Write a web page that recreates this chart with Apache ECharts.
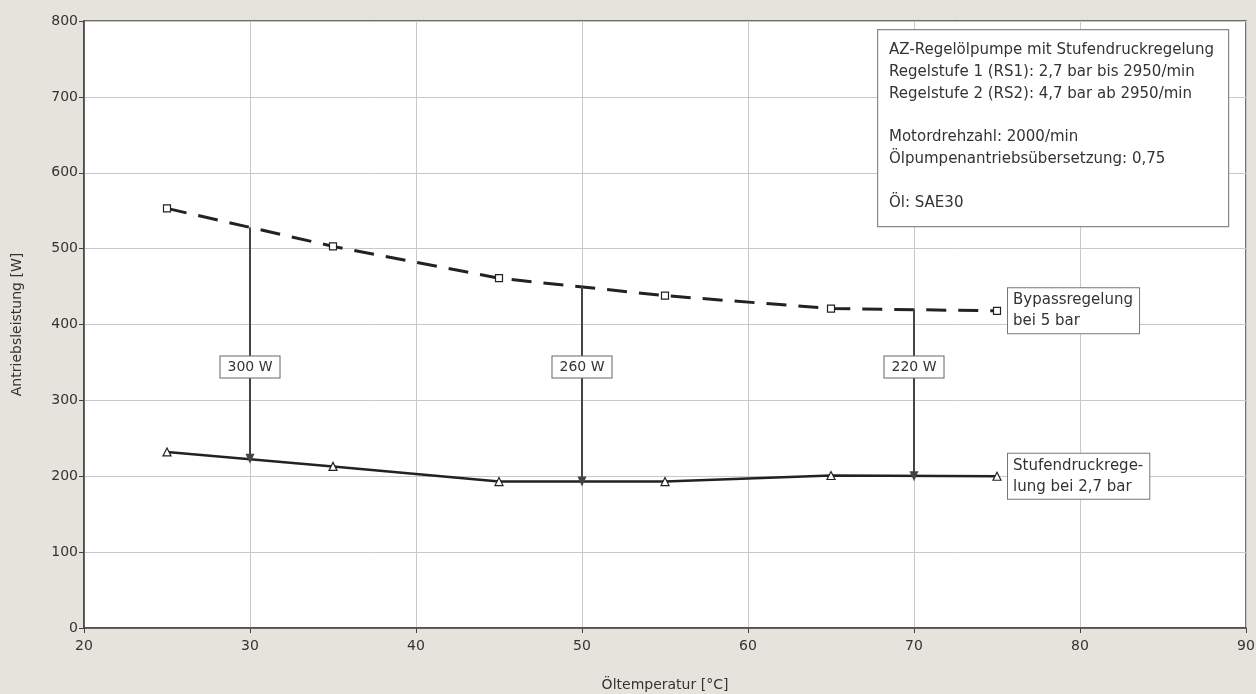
<!DOCTYPE html>
<html><head><meta charset="utf-8">
<script src="https://cdn.jsdelivr.net/npm/echarts@6/dist/echarts.min.js"></script>
<style>html,body{margin:0;padding:0;background:#e6e3dd}#c{width:1256px;height:694px}</style>
</head><body><div id="c"></div>
<script>
const temps = [25, 35, 45, 55, 65, 75];
const bypass = [553, 503, 461, 438, 421, 418];
const stufen = [232, 213, 193, 193, 201, 200];
const arrowX = [30, 50, 70];
const arrowTop = [528, 450, 420];
const arrowBottom = [223, 193, 200];
const arrowLabels = ['300 W', '260 W', '220 W'];
const xTicks = [20, 30, 40, 50, 60, 70, 80, 90];
const yTicks = [0, 100, 200, 300, 400, 500, 600, 700, 800];
const infoLines = ['AZ-Regelölpumpe mit Stufendruckregelung', 'Regelstufe 1 (RS1): 2,7 bar bis 2950/min', 'Regelstufe 2 (RS2): 4,7 bar ab 2950/min', '', 'Motordrehzahl: 2000/min', 'Ölpumpenantriebsübersetzung: 0,75', '', 'Öl: SAE30'];
const bypassLabel = 'Bypassregelung\nbei 5 bar';
const stufenLabel = 'Stufendruckrege-\nlung bei 2,7 bar';

const FONT = '"DejaVu Sans", sans-serif';
const TXT = '#333';
const chart = echarts.init(document.getElementById('c'));
const labelBox = {show: true, fontFamily: FONT, fontSize: 15, color: TXT, backgroundColor: '#fff', borderColor: '#777', borderWidth: 1, padding: [1, 6, 2, 5], lineHeight: 21};

chart.setOption({
  backgroundColor: '#e6e3dd',
  animation: false,
  grid: {left: 84, right: 10, top: 21, bottom: 66, outerBoundsMode: 'none', containLabel: false, show: true, backgroundColor: '#fff', borderColor: '#444', borderWidth: 1.5},
  xAxis: {
    type: 'value', min: xTicks[0], max: xTicks[xTicks.length - 1], interval: 10,
    name: 'Öltemperatur [°C]', nameLocation: 'middle', nameGap: 50,
    nameTextStyle: {fontFamily: FONT, fontSize: 14, color: TXT},
    axisLine: {lineStyle: {color: '#444', width: 1.5}},
    axisTick: {show: true, length: 5, lineStyle: {color: '#444'}},
    axisLabel: {fontFamily: FONT, fontSize: 14, color: TXT, margin: 11},
    splitLine: {lineStyle: {color: '#c8c8c8', width: 1}}
  },
  yAxis: {
    type: 'value', min: yTicks[0], max: yTicks[yTicks.length - 1], interval: 100,
    name: 'Antriebsleistung [W]', nameLocation: 'middle', nameGap: 60, nameRotate: 90,
    nameTextStyle: {fontFamily: FONT, fontSize: 14, color: TXT},
    axisLine: {show: true, lineStyle: {color: '#444', width: 1.5}},
    axisTick: {show: true, length: 5, lineStyle: {color: '#444'}},
    axisLabel: {fontFamily: FONT, fontSize: 14, color: TXT, margin: 6},
    splitLine: {lineStyle: {color: '#c8c8c8', width: 1}}
  },
  series: [
    {
      type: 'line', name: 'Bypassregelung', data: temps.map((t, i) => [t, bypass[i]]),
      symbol: 'rect', symbolSize: 7, itemStyle: {color: '#fff', borderColor: '#222', borderWidth: 1.2},
      lineStyle: {color: '#222', width: 3, type: [20, 12]}, z: 3,
      endLabel: {formatter: bypassLabel, ...labelBox, offset: [3, 0]}
    },
    {
      type: 'line', name: 'Stufendruckregelung', data: temps.map((t, i) => [t, stufen[i]]),
      symbol: 'triangle', symbolSize: 8, itemStyle: {color: '#fff', borderColor: '#222', borderWidth: 1.2},
      lineStyle: {color: '#222', width: 2.5}, z: 3,
      endLabel: {formatter: stufenLabel, ...labelBox, offset: [3, 0]}
    },
    ...arrowX.map((x, i) => ({
      type: 'line', data: [], z: 2,
      markLine: {
        silent: true, symbol: ['none', 'triangle'], symbolSize: [9, 10],
        lineStyle: {color: '#444', width: 2, type: 'solid'},
        label: {show: false},
        data: [[{coord: [x, arrowTop[i]]}, {coord: [x, arrowBottom[i]]}]]
      }
    })),
    {
      type: 'scatter', symbolSize: 0, z: 5, itemStyle: {opacity: 1},
      data: arrowX.map((x, i) => ({value: [x, 344], label: {formatter: arrowLabels[i]}})),
      label: {show: true, position: 'inside', fontFamily: FONT, fontSize: 14, color: TXT, backgroundColor: '#fff', borderColor: '#666', borderWidth: 1, padding: [4, 7, 3, 7]}
    }
  ],
  graphic: [
    {type: 'rect', left: 877, top: 29, shape: {width: 351, height: 197}, style: {fill: '#fff', stroke: '#888', lineWidth: 1.2}, z: 10},
    ...infoLines.map((s, i) => ({type: 'text', x: 889, y: [50, 72, 94, 0, 137, 159, 0, 203][i], style: {text: s, font: '15px ' + FONT, fill: TXT, verticalAlign: 'middle'}, z: 11}))
  ]
});
</script></body></html>
